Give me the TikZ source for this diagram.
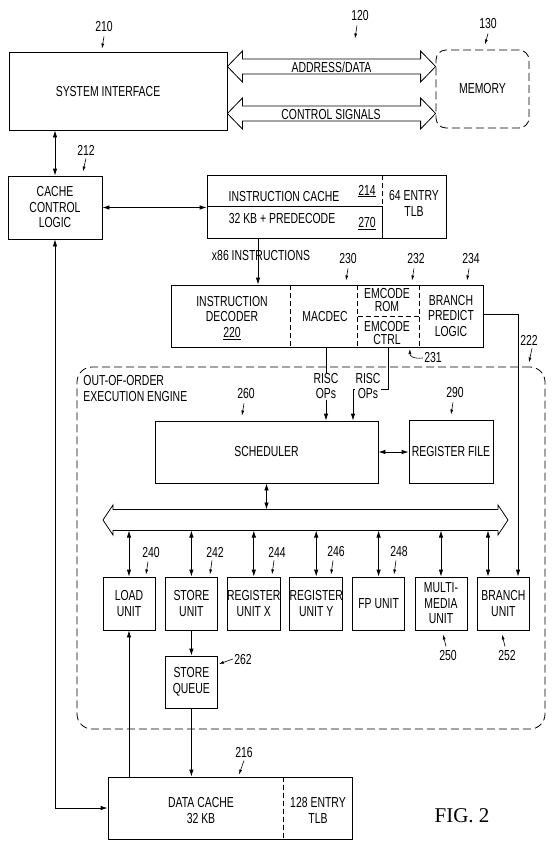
\documentclass[tikz,border=0pt]{standalone}
\usepackage{fontspec}
\setmainfont{Liberation Sans}[FakeStretch=0.72]
\newfontfamily\figfont{Liberation Serif}
\usetikzlibrary{arrows.meta,calc}

\begin{document}
\begin{tikzpicture}[x=1pt,y=-1pt,
        font=\fontsize{14.5}{15.5}\selectfont,
        line width=0.8pt,
        box/.style={draw,rectangle,inner sep=0pt,align=center},
        unitbox/.style={box,minimum width=52pt,minimum height=53pt},
        dashbox/.style={draw,rectangle,dash pattern=on 8pt off 4pt,rounded corners=10pt,inner sep=0pt,align=center},
        divider/.style={dash pattern=on 5pt off 3pt},
        conn/.style={-{Latex[length=7pt,width=4.5pt]}},
        bothconn/.style={{Latex[length=7pt,width=4.5pt]}-{Latex[length=7pt,width=4.5pt]}},
        lead/.style={-{Latex[length=5pt,width=3pt]},line width=0.6pt},
        num/.style={inner sep=1pt}]
        \useasboundingbox (0,0) rectangle (559,846);
        %Shape: Rectangle [system interface]
        \node[box,minimum width=218pt,minimum height=78pt] (sysif) at (118,91) {};
        %Shape: Rounded Rect [memory]
        \node[dashbox,minimum width=93pt,minimum height=78pt] (mem) at (482.5,89) {MEMORY};
        %Shape: Double Arrows
        \coordinate (ad) at (0,66.5);
        \coordinate (cs) at (0,113.5);
        \draw (sysif.east |- ad) -- ++(15,-15.5) -- ++(0,8) -- ($(mem.west |- ad)+(-15,-7.5)$) -- ++(0,-8) -- (mem.west |- ad) -- ++(-15,15.5) -- ++(0,-8) -- ($(sysif.east |- ad)+(15,7.5)$) -- ++(0,8) -- cycle;
        \draw (sysif.east |- cs) -- ++(15,-15.5) -- ++(0,8) -- ($(mem.west |- cs)+(-15,-7.5)$) -- ++(0,-8) -- (mem.west |- cs) -- ++(-15,15.5) -- ++(0,-8) -- ($(sysif.east |- cs)+(15,7.5)$) -- ++(0,8) -- cycle;
        %Shape: Rectangle [cache control]
        \node[box,minimum width=94pt,minimum height=63pt] (ccl) at (55,207.5) {CACHE\\CONTROL\\LOGIC};
        %Shape: Rectangle [instruction cache]
        \node[box,minimum width=239pt,minimum height=63pt] (icache) at (326.5,206.5) {};
        \draw[divider] ($(icache.north west)+(176,0)$) -- ($(icache.north west)+(176,32)$);
        \draw ($(icache.north west)+(0,32)$) -- ($(icache.north west)+(176,32)$) -- ($(icache.south west)+(176,0)$);
        %Shape: Rectangle [decoder]
        \node[box,minimum width=312pt,minimum height=62pt] (dec) at (327,316) {};
        \draw[divider] ($(dec.north west)+(120,0)$) -- ($(dec.south west)+(120,0)$);
        \draw[divider] ($(dec.north west)+(187,0)$) -- ($(dec.south west)+(187,0)$);
        \draw[divider] ($(dec.north west)+(249,0)$) -- ($(dec.south west)+(249,0)$);
        \draw[divider] ($(dec.west)+(187,0)$) -- ($(dec.west)+(249,0)$);
        %Shape: Rounded Rect [execution engine]
        \node[dashbox,rounded corners=15pt,minimum width=468pt,minimum height=362pt] (ooo) at (311,548) {};
        %Shape: Rectangle [scheduler, register file]
        \node[box,minimum width=223pt,minimum height=62pt] (sched) at (266.5,452) {SCHEDULER};
        \node[box,minimum width=84pt,minimum height=63pt] (regf) at (451,451.5) {REGISTER FILE};
        %Shape: Double Arrow [result bus]
        \coordinate (busL) at (103,520);
        \coordinate (busR) at (508,520);
        \coordinate (busT) at (0,509.5);
        \coordinate (busB) at (0,530.5);
        \draw (busL) -- ++(10,-15) -- ++(0,4.5) -- ($(busR)+(-10,-10.5)$) -- ++(0,-4.5) -- (busR) -- ++(-10,15) -- ++(0,-4.5) -- ($(busL)+(10,10.5)$) -- ++(0,4.5) -- cycle;
        %Shape: Rectangle [units]
        \node[unitbox] (load) at (129,603.5) {LOAD\\UNIT};
        \node[unitbox] (store) at (191.4,603.5) {STORE\\UNIT};
        \node[unitbox] (regx) at (253.8,603.5) {REGISTER\\UNIT X};
        \node[unitbox] (regy) at (316.2,603.5) {REGISTER\\UNIT Y};
        \node[unitbox] (fpu) at (378.6,603.5) {FP UNIT};
        \node[unitbox] (mmu) at (441,603.5) {MULTI-\\MEDIA\\UNIT};
        \node[unitbox] (branch) at (503.4,603.5) {BRANCH\\UNIT};
        \node[box,minimum width=52pt,minimum height=52pt] (sq) at (191.4,682) {STORE\\QUEUE};
        %Shape: Rectangle [data cache]
        \node[box,minimum width=244pt,minimum height=62pt] (dcache) at (230,808) {};
        \draw[divider] ($(dcache.north west)+(176,0)$) -- ($(dcache.south west)+(176,0)$);

        %Straight Lines
        \draw[bothconn] (ccl.north) -- (ccl.north |- sysif.south);
        \draw[bothconn] (ccl.east) -- (ccl.east -| icache.west);
        \coordinate (x86arr) at (258,0);
        \draw[conn] (icache.south -| x86arr) -- (dec.north -| x86arr);
        %Straight Lines [risc ops]
        \coordinate (r1) at (326,0);
        \coordinate (r2a) at (388,389.5);
        \coordinate (r2b) at (353,389.5);
        \draw[conn] (dec.south -| r1) -- (sched.north -| r1);
        \draw[conn] (dec.south -| r2a) -- (r2a) -- (r2b) -- (sched.north -| r2b);
        %Straight Lines [branch predict]
        \coordinate (bpl) at (518,314);
        \draw[conn] (dec.east |- bpl) -| (branch.north -| bpl);
        \draw[bothconn] (sched.east) -- (sched.east -| regf.west);
        \draw[bothconn] (sched.south) -- (sched.south |- busT);
        %Straight Lines [bus to units]
        \draw[bothconn] (load.north) -- (load.north |- busB);
        \draw[bothconn] (store.north) -- (store.north |- busB);
        \draw[bothconn] (regx.north) -- (regx.north |- busB);
        \draw[bothconn] (regy.north) -- (regy.north |- busB);
        \draw[bothconn] (fpu.north) -- (fpu.north |- busB);
        \draw[bothconn] (mmu.north) -- (mmu.north |- busB);
        \coordinate (bra) at (488,0);
        \draw[bothconn] (branch.north -| bra) -- (bra |- busB);
        %Straight Lines [memory side]
        \draw[conn] (store.south) -- (sq.north);
        \draw[conn] (sq.south) -- (sq.south |- dcache.north);
        \draw[conn] (load.south |- dcache.north) -- (load.south);
        \draw[bothconn] (ccl.south) |- (dcache.west);

        % Text Node
        \node (sysiftxt) at (108,92) {SYSTEM INTERFACE};
        \node (adtxt) at (331.5,67.5) {ADDRESS/DATA};
        \node (cstxt) at (331,114.5) {CONTROL SIGNALS};
        % Text Node
        \node (ictxt) at (284,197) {INSTRUCTION CACHE};
        \node[num] (n214) at (367,191) {\underline{214}};
        \node (pdtxt) at (282,219) {32 KB + PREDECODE};
        \node[num] (n270) at (367,224) {\underline{270}};
        \node[align=center,font=\fontsize{14.5}{16.5}\selectfont] (itlb) at (414,203.5) {64 ENTRY\\TLB};
        \node (x86) at (261,256) {x86 INSTRUCTIONS};
        % Text Node
        \node[align=center] (dectxt) at (232,318) {INSTRUCTION\\DECODER\\\underline{220}};
        \node (macdec) at (325,317) {MACDEC};
        \node[align=center,font=\fontsize{14.5}{13}\selectfont] (erom) at (387,300.5) {EMCODE\\ROM};
        \node[align=center,font=\fontsize{14.5}{13}\selectfont] (ectrl) at (387,333.5) {EMCODE\\CTRL};
        \node[align=center] (bpred) at (451,316) {BRANCH\\PREDICT\\LOGIC};
        % Text Node
        \node[anchor=north west,align=left,inner sep=0pt] (ooolbl) at (83,375) {OUT-OF-ORDER\\EXECUTION ENGINE};
        \node[fill=white,inner sep=1pt,align=center,font=\fontsize{14.5}{15}\selectfont] (risc1) at (326,386.5) {RISC\\OPs};
        \node[fill=white,inner sep=1pt,align=center,font=\fontsize{14.5}{15}\selectfont] (risc2) at (368,386.5) {RISC\\OPs};
        % Text Node
        \node[align=center] (dctxt) at (201,810.5) {DATA CACHE\\32 KB};
        \node[align=center] (dtlb) at (318,810.5) {128 ENTRY\\TLB};
        \node[font=\figfont\fontsize{21}{21}\selectfont] (fig) at (462,816) {FIG.\ 2};

        % Text Node [reference numerals]
        \node[num] (n210) at (104,27) {210};
        \draw[lead] ([yshift=-3pt]n210.south) -- ++(-2,12);
        \node[num] (n120) at (360,16) {120};
        \draw[lead] ([xshift=-3pt,yshift=-3pt]n120.south) -- ++(-2,13);
        \node[num] (n130) at (488,24) {130};
        \draw[lead] ([yshift=-3pt]n130.south) -- ++(-3,11);
        \node[num] (n212) at (86,150) {212};
        \draw[lead] ([yshift=-2pt]n212.south) -- ++(-3,13);
        \node[num] (n230) at (348,259) {230};
        \draw[lead] ([yshift=-3pt]n230.south) -- ++(-2,12);
        \node[num] (n232) at (416,259) {232};
        \draw[lead] ([xshift=-2pt,yshift=-3pt]n232.south) -- ++(-2,12);
        \node[num] (n234) at (471,259) {234};
        \draw[lead] ([xshift=-2pt,yshift=-3pt]n234.south) -- ++(-2,12);
        \node[num] (n222) at (529,340) {222};
        \draw[lead] ([xshift=3pt,yshift=-2pt]n222.south) -- ++(-3,14);
        \node[num] (n231) at (433,358) {231};
        \draw[lead] (n231.west) .. controls +(-10,1) and +(0,7) .. ++(-13,-9);
        \node[num] (n260) at (246,394) {260};
        \draw[lead] ([xshift=-2pt,yshift=-3pt]n260.south) -- ++(-2,12);
        \node[num] (n290) at (455,393) {290};
        \draw[lead] ([xshift=-2pt,yshift=-3pt]n290.south) -- ++(-2,12);
        \node[num] (n240) at (151,553) {240};
        \draw[lead] ([xshift=-3pt,yshift=-2pt]n240.south) -- ++(-2,13);
        \node[num] (n242) at (215,552) {242};
        \draw[lead] ([xshift=-3pt,yshift=-2pt]n242.south) -- ++(-2,14);
        \node[num] (n244) at (277,552) {244};
        \draw[lead] ([xshift=-3pt,yshift=-2pt]n244.south) -- ++(-2,14);
        \node[num] (n246) at (336,552) {246};
        \draw[lead] ([xshift=-3pt,yshift=-2pt]n246.south) -- ++(-2,14);
        \node[num] (n248) at (399,552) {248};
        \draw[lead] ([xshift=-3pt,yshift=-2pt]n248.south) -- ++(-2,14);
        \node[num] (n250) at (448,655) {250};
        \draw[lead] ([xshift=-2pt,yshift=2pt]n250.north) -- ++(-3,-12);
        \node[num] (n252) at (507,655) {252};
        \draw[lead] ([xshift=-2pt,yshift=2pt]n252.north) -- ++(-3,-12);
        \node[num] (n262) at (243,659) {262};
        \draw[lead] (n262.west) -- ++(-14,5);
        \node[num] (n216) at (244,752) {216};
        \draw[lead] ([yshift=-2pt]n216.south) -- ++(-5,14);
    \end{tikzpicture}
\end{document}
